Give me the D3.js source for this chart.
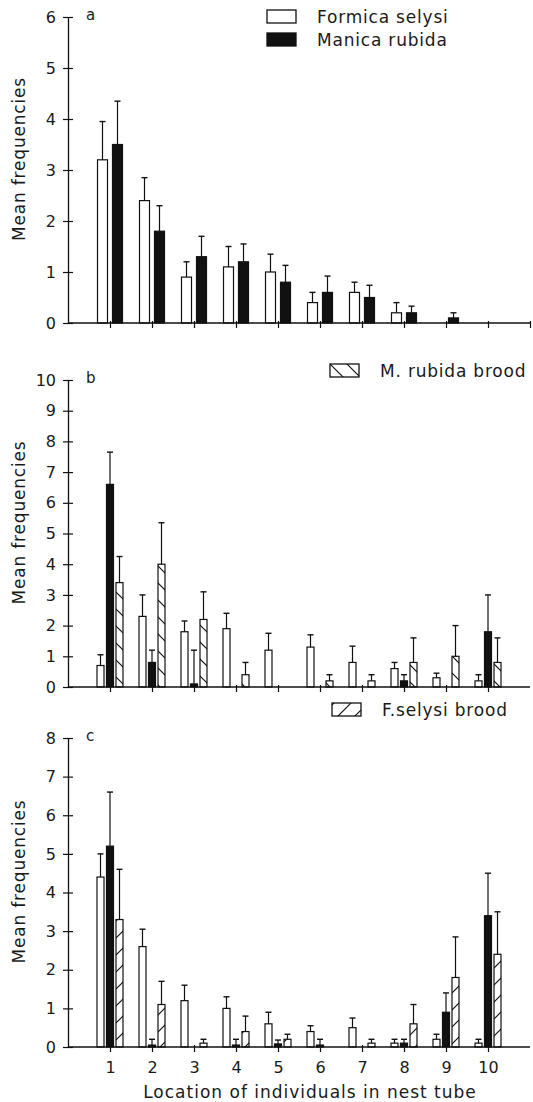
<!DOCTYPE html>
<html>
<head>
<meta charset="utf-8">
<script src="https://cdn.jsdelivr.net/npm/d3@7"></script>
<style>
  body { margin: 0; background: #fff; }
  text { font-family: "DejaVu Sans", sans-serif; fill: #1a1a1a; }
</style>
</head>
<body>
<div id="chart"></div>
<script>
// location categories along the nest tube
var locations = [1, 2, 3, 4, 5, 6, 7, 8, 9, 10];

// panel a : adults only
var aFormica = [3.2, 2.4, 0.9, 1.1, 1.0, 0.4, 0.6, 0.2, 0, 0];
var aFormicaSE = [0.75, 0.45, 0.3, 0.4, 0.35, 0.2, 0.2, 0.2, 0, 0];
var aManica = [3.5, 1.8, 1.3, 1.2, 0.8, 0.6, 0.5, 0.2, 0.1, 0];
var aManicaSE = [0.85, 0.5, 0.4, 0.35, 0.33, 0.32, 0.24, 0.13, 0.1, 0];

// panel b : with M. rubida brood
var bFormica = [0.7, 2.3, 1.8, 1.9, 1.2, 1.3, 0.8, 0.6, 0.3, 0.2];
var bFormicaSE = [0.35, 0.7, 0.35, 0.5, 0.55, 0.4, 0.53, 0.2, 0.15, 0.2];
var bManica = [6.6, 0.8, 0.1, 0, 0, 0, 0, 0.2, 0, 1.8];
var bManicaSE = [1.05, 0.4, 1.1, 0, 0, 0, 0, 0.2, 0, 1.2];
var bBrood = [3.4, 4.0, 2.2, 0.4, 0, 0.2, 0.2, 0.8, 1.0, 0.8];
var bBroodSE = [0.85, 1.35, 0.9, 0.4, 0, 0.2, 0.2, 0.8, 1.0, 0.8];

// panel c : with F. selysi brood
var cFormica = [4.4, 2.6, 1.2, 1.0, 0.6, 0.4, 0.5, 0.1, 0.2, 0.1];
var cFormicaSE = [0.6, 0.45, 0.4, 0.3, 0.3, 0.15, 0.25, 0.1, 0.13, 0.1];
var cManica = [5.2, 0.05, 0, 0.05, 0.08, 0.05, 0, 0.1, 0.9, 3.4];
var cManicaSE = [1.4, 0.15, 0, 0.15, 0.1, 0.15, 0, 0.1, 0.5, 1.1];
var cBrood = [3.3, 1.1, 0.1, 0.4, 0.2, 0, 0.1, 0.6, 1.8, 2.4];
var cBroodSE = [1.3, 0.6, 0.1, 0.4, 0.13, 0, 0.1, 0.5, 1.05, 1.1];

var yMax = [6, 10, 8];

var width = 533, height = 1102;

var svg = d3.select("#chart").append("svg")
    .attr("width", width)
    .attr("height", height);

// hatch patterns for the brood bars
var defs = svg.append("defs");
var pb = defs.append("pattern")
    .attr("id", "hatchBack")
    .attr("patternUnits", "userSpaceOnUse")
    .attr("width", 17).attr("height", 17);
pb.append("rect").attr("width", 17).attr("height", 17).attr("fill", "#fff");
pb.append("path")
    .attr("d", "M0,0 L17,17 M-3,14 L3,20 M14,-3 L20,3")
    .attr("stroke", "#111").attr("stroke-width", 1.2);
var pf = defs.append("pattern")
    .attr("id", "hatchFwd")
    .attr("patternUnits", "userSpaceOnUse")
    .attr("width", 17).attr("height", 17);
pf.append("rect").attr("width", 17).attr("height", 17).attr("fill", "#fff");
pf.append("path")
    .attr("d", "M0,17 L17,0 M-3,3 L3,-3 M14,20 L20,14")
    .attr("stroke", "#111").attr("stroke-width", 1.2);

var x = d3.scaleLinear().domain([0, 11]).range([68, 530]);

var panels = [
    {letter: "a", top: 17, bottom: 323, max: yMax[0], barW: 10, xticks: d3.range(1, 12), labels: false,
     series: [
        {mean: aFormica, se: aFormicaSE, fill: "#fff", off: -7.5},
        {mean: aManica, se: aManicaSE, fill: "#111", off: 7.5}
     ]},
    {letter: "b", top: 380, bottom: 687, max: yMax[1], barW: 7, xticks: locations, labels: false,
     series: [
        {mean: bFormica, se: bFormicaSE, fill: "#fff", off: -9.5},
        {mean: bManica, se: bManicaSE, fill: "#111", off: 0},
        {mean: bBrood, se: bBroodSE, fill: "url(#hatchBack)", off: 9.5}
     ]},
    {letter: "c", top: 738, bottom: 1047, max: yMax[2], barW: 7, xticks: locations, labels: true,
     series: [
        {mean: cFormica, se: cFormicaSE, fill: "#fff", off: -9.5},
        {mean: cManica, se: cManicaSE, fill: "#111", off: 0},
        {mean: cBrood, se: cBroodSE, fill: "url(#hatchFwd)", off: 9.5}
     ]}
];

panels.forEach(function (p) {
    var y = d3.scaleLinear().domain([0, p.max]).range([p.bottom, p.top]);
    var g = svg.append("g");

    // bars and error bars
    p.series.forEach(function (s) {
        var items = locations.map(function (loc, i) {
            return {loc: loc, mean: s.mean[i], se: s.se[i]};
        });
        var sg = g.append("g");
        sg.selectAll("rect")
            .data(items.filter(function (d) { return d.mean > 0; }))
            .enter().append("rect")
            .attr("x", function (d) { return x(d.loc) + s.off - p.barW / 2; })
            .attr("y", function (d) { return y(d.mean); })
            .attr("width", p.barW)
            .attr("height", function (d) { return y(0) - y(d.mean); })
            .attr("fill", s.fill)
            .attr("stroke", "#111")
            .attr("stroke-width", 1.2);
        var eb = sg.selectAll(".err")
            .data(items.filter(function (d) { return d.se > 0; }))
            .enter().append("g").attr("class", "err");
        eb.append("line")
            .attr("x1", function (d) { return x(d.loc) + s.off; })
            .attr("x2", function (d) { return x(d.loc) + s.off; })
            .attr("y1", function (d) { return y(d.mean); })
            .attr("y2", function (d) { return y(d.mean + d.se); })
            .attr("stroke", "#111").attr("stroke-width", 1.2);
        eb.append("line")
            .attr("x1", function (d) { return x(d.loc) + s.off - 3; })
            .attr("x2", function (d) { return x(d.loc) + s.off + 3; })
            .attr("y1", function (d) { return y(d.mean + d.se); })
            .attr("y2", function (d) { return y(d.mean + d.se); })
            .attr("stroke", "#111").attr("stroke-width", 1.4);
    });

    // y axis
    var ya = g.append("g")
        .attr("transform", "translate(" + x(0) + ",0)")
        .call(d3.axisLeft(y).tickValues(d3.range(0, p.max + 1)).tickFormat(d3.format("d"))
            .tickSize(5).tickSizeOuter(0).tickPadding(7));
    ya.selectAll(".tick line").attr("x1", 5).attr("stroke", "#111").attr("stroke-width", 1.2);
    ya.select(".domain").attr("stroke", "#111").attr("stroke-width", 1.3);
    ya.selectAll("text").style("font-size", "16px").attr("fill", "#1a1a1a");

    // x axis
    var xa = g.append("g")
        .attr("transform", "translate(0," + p.bottom + ")")
        .call(d3.axisBottom(x).tickValues(p.xticks).tickSize(5).tickSizeOuter(0).tickPadding(10)
            .tickFormat(p.labels ? d3.format("d") : function () { return ""; }));
    xa.select(".domain").attr("d", "M" + x(0) + ",0H" + x(11)).attr("stroke", "#111").attr("stroke-width", 1.3);
    xa.selectAll(".tick line").attr("y1", -2).attr("stroke", "#111").attr("stroke-width", 1.2);
    xa.selectAll("text").style("font-size", "16px").attr("fill", "#1a1a1a");

    // axis title
    g.append("text")
        .attr("transform", "translate(25," + ((p.top + p.bottom) / 2 - 11) + ") rotate(-90)")
        .attr("text-anchor", "middle")
        .style("font-size", "17px")
        .style("letter-spacing", "0.8px")
        .text("Mean frequencies");

    // panel letter
    g.append("text")
        .attr("x", x(0) + 18)
        .attr("y", p.top + 3)
        .style("font-size", "15px")
        .text(p.letter);
});

// x axis title
svg.append("text")
    .attr("x", 310)
    .attr("y", 1098)
    .attr("text-anchor", "middle")
    .style("font-size", "17px")
    .style("letter-spacing", "1px")
    .text("Location of individuals in nest tube");

// legends
var legends = [
    {label: "Formica selysi", fill: "#fff", x: 267, y: 10},
    {label: "Manica rubida", fill: "#111", x: 267, y: 33},
    {label: "M. rubida brood", fill: "url(#hatchBack)", x: 330, y: 364},
    {label: "F.selysi brood", fill: "url(#hatchFwd)", x: 332, y: 703}
];
var lg = svg.append("g").selectAll("g").data(legends).enter().append("g");
lg.append("rect")
    .attr("x", function (d) { return d.x; })
    .attr("y", function (d) { return d.y; })
    .attr("width", 29).attr("height", 13)
    .attr("fill", function (d) { return d.fill; })
    .attr("stroke", "#111").attr("stroke-width", 1.3);
lg.append("text")
    .attr("x", function (d) { return d.x + 50; })
    .attr("y", function (d) { return d.y + 13; })
    .style("font-size", "17px")
    .style("letter-spacing", "0.8px")
    .text(function (d) { return d.label; });
</script>
</body>
</html>
